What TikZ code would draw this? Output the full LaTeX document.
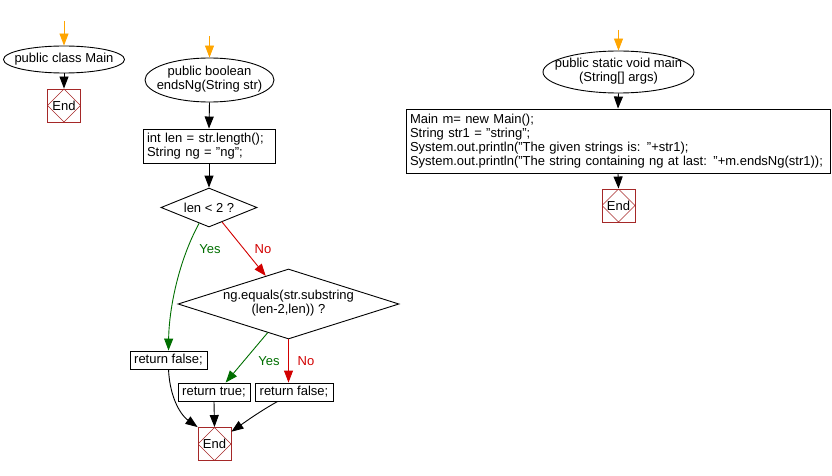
\documentclass[tikz,border=0pt]{standalone}
\usepackage{fontspec}
\setmainfont{Liberation Sans}
\usetikzlibrary{shapes.geometric,arrows.meta,calc}
\definecolor{endred}{RGB}{165,40,40}
\definecolor{flowgreen}{RGB}{0,110,0}
\definecolor{flowred}{RGB}{210,0,0}
\definecolor{flowor}{RGB}{255,165,0}
\begin{document}
\begin{tikzpicture}[x=1pt,y=-1pt,
  font=\fontsize{13}{13.8}\selectfont,
  line width=0.9pt,
  arr/.style={-{Triangle[length=12pt,width=9pt]}},
  term/.style={ellipse, draw, inner sep=0pt},
  proc/.style={rectangle, draw, align=left, inner sep=3pt},
  dec/.style={diamond, draw, inner sep=0pt},
  endnode/.style={rectangle, draw=endred, minimum width=33pt, minimum height=33pt, inner sep=0pt,
    path picture={\draw[endred, line width=0.6pt] (path picture bounding box.north) -- (path picture bounding box.east) -- (path picture bounding box.south) -- (path picture bounding box.west) -- cycle;}},
  lab/.style={inner sep=0pt}
]
\useasboundingbox (0,0) rectangle (832,476);

% left column
\coordinate (s1) at (64,21);
\node[term, minimum width=121pt, minimum height=27pt] (e1) at (64,59.5) {\makebox[0pt]{public class Main}};
\node[endnode] (end1) at (64,105.5) {End};
\draw[arr, flowor] (s1) -- (e1.north);
\draw[arr] (e1.south) -- (end1.north);

% middle column
\coordinate (s2) at (209.5,36);
\node[term, minimum width=129pt, minimum height=44pt] (e2) at (209.5,80) {\makebox[0pt]{\begin{tabular}{@{}c@{}}public boolean\\endsNg(String str)\end{tabular}}};
\node[proc, minimum width=132pt, minimum height=34pt, text width=124pt] (b2) at (209,146) {int len = str.length();\\String ng = "ng";};
\node[dec, minimum width=96pt, minimum height=39pt] (d1) at (209,207.5) {\makebox[0pt]{len < 2 ?}};
\node[dec, minimum width=221pt, minimum height=70pt] (d2) at (288.5,304) {\makebox[0pt]{\begin{tabular}{@{}c@{}}ng.equals(str.substring\\(len-2,len)) ?\end{tabular}}};
\node[proc, minimum width=77pt, minimum height=18pt, inner sep=0pt] (rf1) at (168.5,360) {return false;};
\node[proc, minimum width=72pt, minimum height=18pt, inner sep=0pt] (rt) at (214,392) {return true;};
\node[proc, minimum width=78pt, minimum height=18pt, inner sep=0pt] (rf2) at (294,392) {return false;};
\node[endnode] (end2) at (214.5,444) {End};

\draw[arr, flowor] (s2) -- (e2.north);
\draw[arr] (e2.south) -- (b2.north);
\draw[arr] (b2.south) -- (d1.north);
\draw[arr, flowgreen] (d1.-122) .. controls (178,262) and (169,310) .. (rf1.north);
\draw[arr, flowred] (d1.-48) -- (d2.129);
\node[lab, text=flowgreen] (yes1) at (210,249) {Yes};
\node[lab, text=flowred] (no1) at (263,249) {No};
\draw[arr, flowgreen] (d2.-126.5) -- (rt.39);
\draw[arr, flowred] (d2.south) -- (d2.south |- rf2.north);
\node[lab, text=flowgreen] (yes2) at (269,361) {Yes};
\node[lab, text=flowred] (no2) at (306,361) {No};
\draw[arr] (rf1.south) .. controls (170,400) and (182,416) .. (end2.135);
\draw[arr] (rt.south) -- (end2.north);
\draw[arr] (rf2.-150.6) .. controls (262,410) and (245,422) .. (end2.36);

% right column
\coordinate (s3) at (618.5,30);
\node[term, minimum width=151pt, minimum height=42pt] (e3) at (618.5,72) {\makebox[0pt]{\begin{tabular}{@{}c@{}}public static void main\\(String[] args)\end{tabular}}};
\node[proc, minimum width=424pt, minimum height=64pt, text width=416pt, inner sep=4pt] (b3) at (618,141) {Main m= new Main();\\String str1 = "string";\\System.out.println("The given strings is: "+str1);\\System.out.println("The string containing ng at last: "+m.endsNg(str1));};
\node[endnode] (end3) at (618.5,205.5) {End};
\draw[arr, flowor] (s3) -- (e3.north);
\draw[arr] (e3.south) -- (b3.north);
\draw[arr] (b3.south) -- (end3.north);
\end{tikzpicture}
\end{document}
